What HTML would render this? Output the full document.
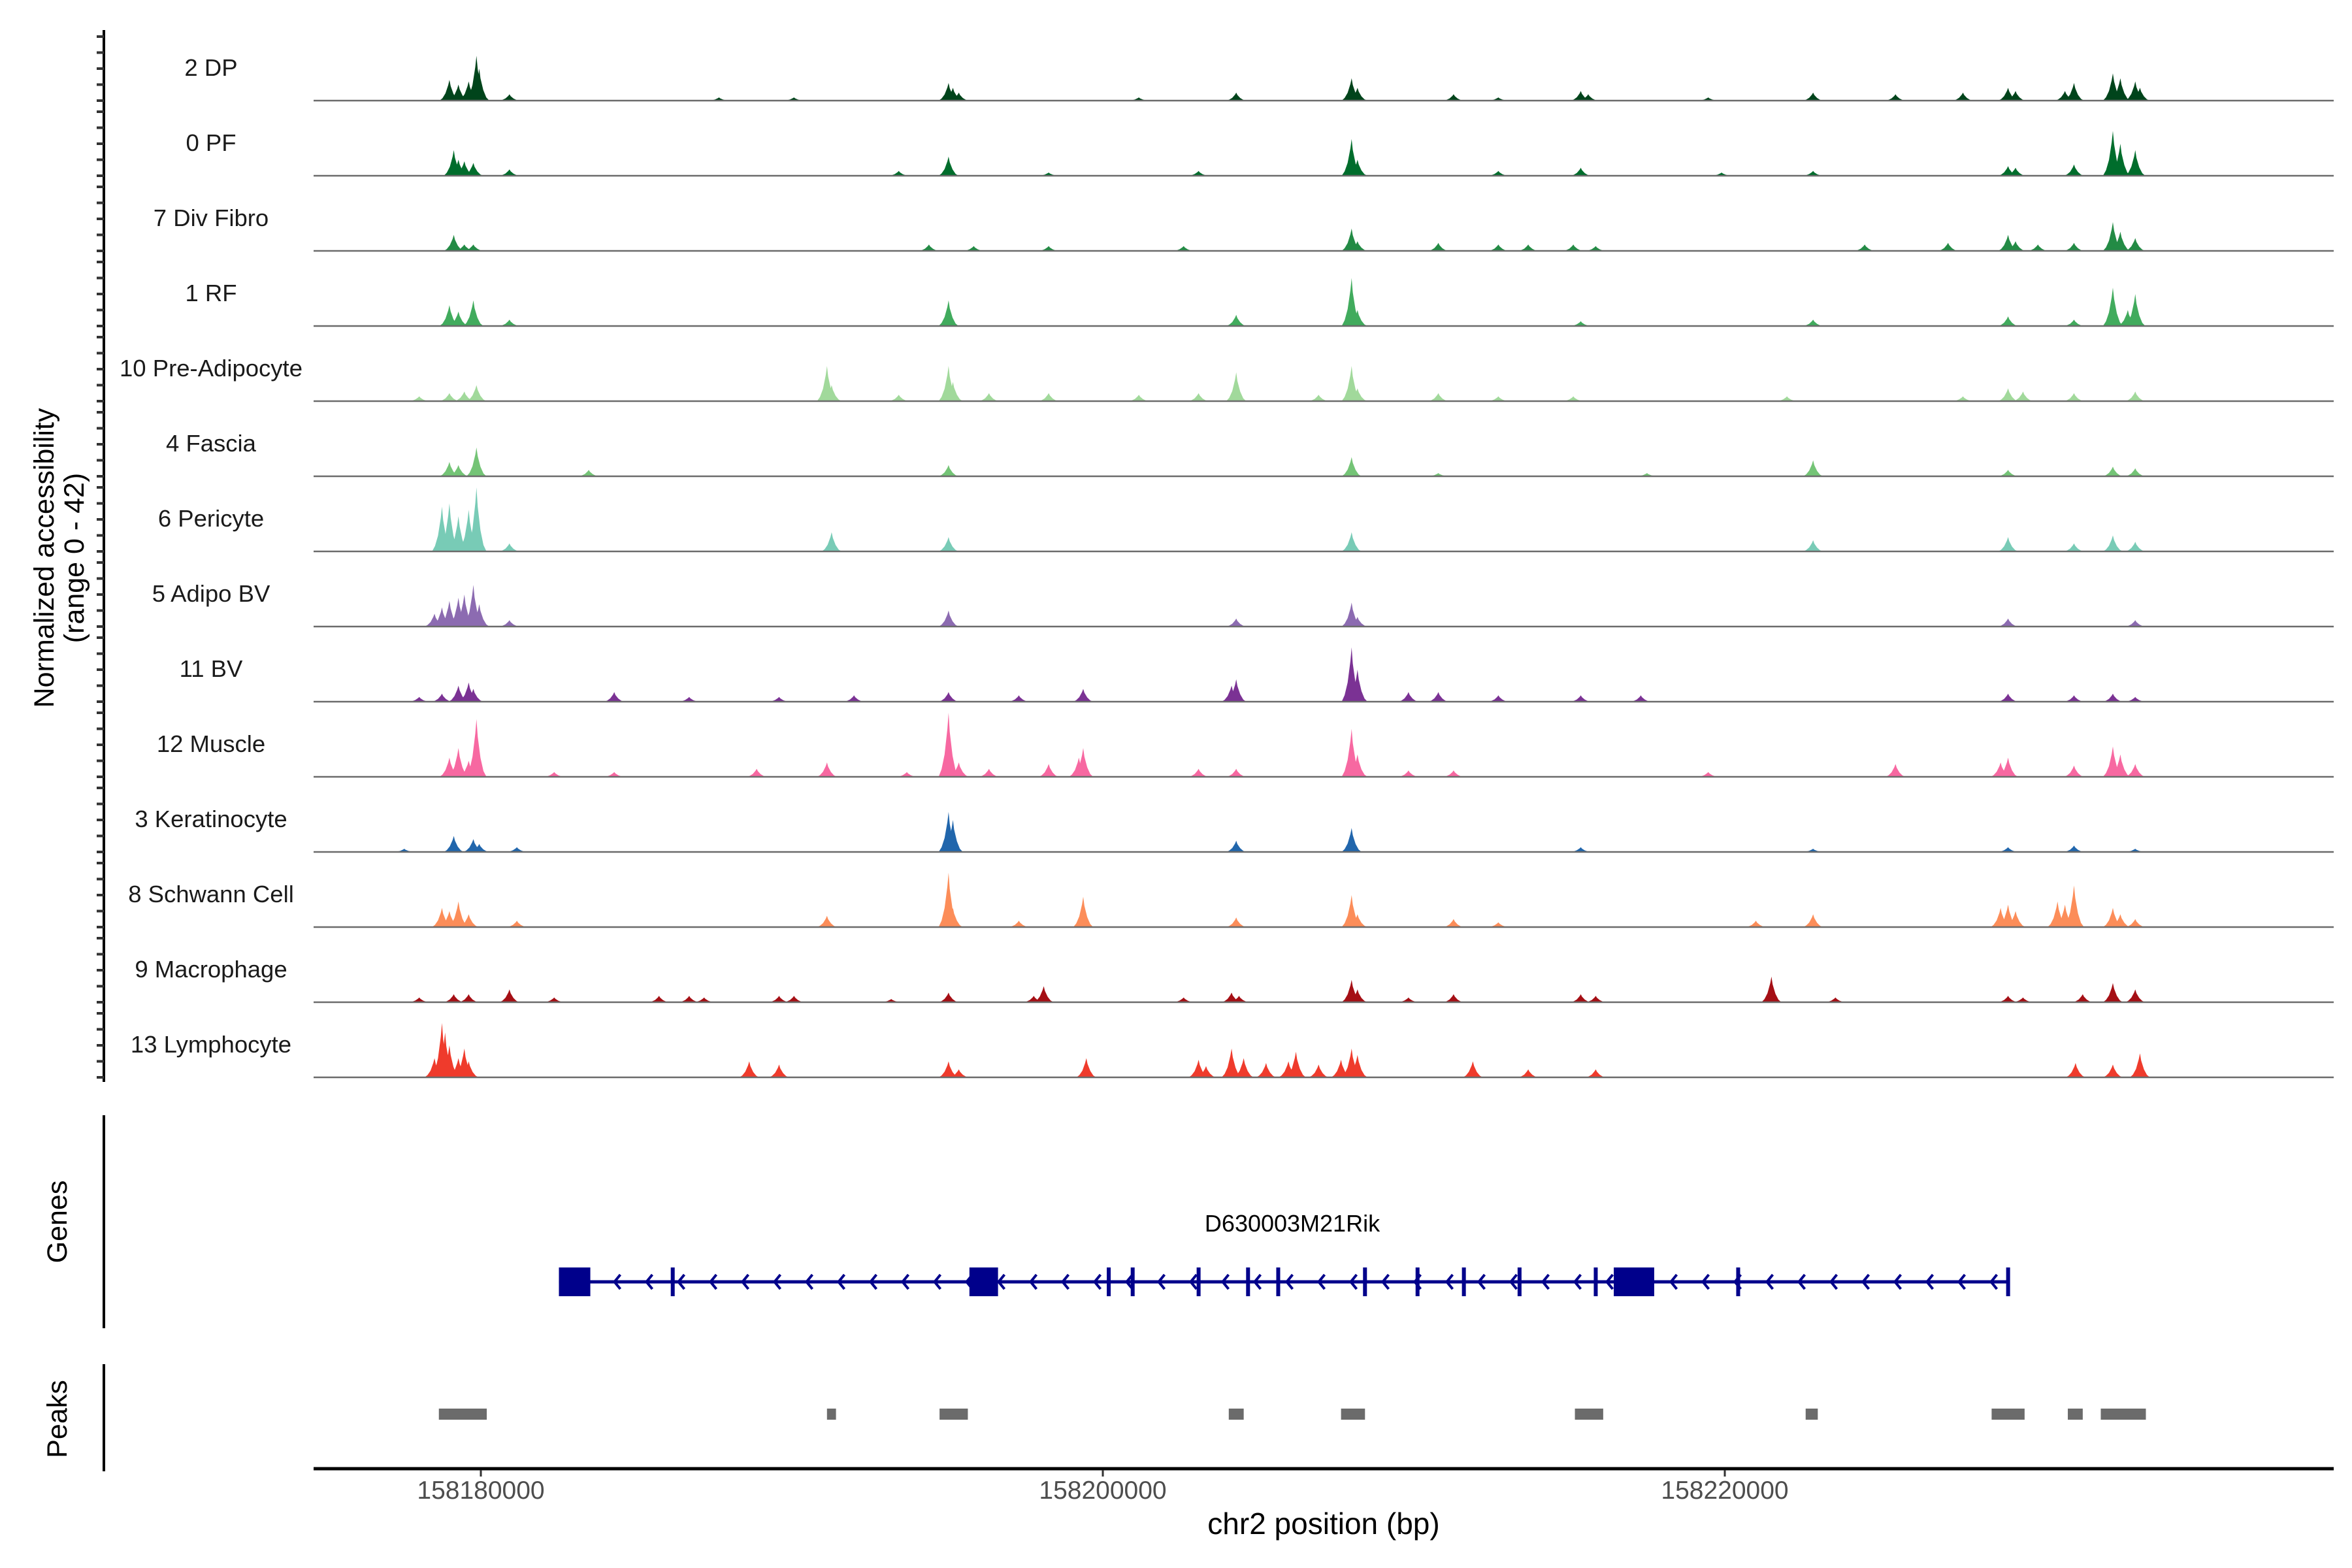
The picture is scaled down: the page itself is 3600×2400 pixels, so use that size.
<!DOCTYPE html>
<html><head><meta charset="utf-8">
<style>
html,body{margin:0;padding:0;background:#fff;}
svg{display:block;font-family:"Liberation Sans",Arial,sans-serif;}
</style></head>
<body>
<svg id="chart" width="3600" height="2400" viewBox="0 0 3600 2400" xmlns="http://www.w3.org/2000/svg">
<rect width="3600" height="2400" fill="#fff"/>
<g id="tracks"></g>
<g id="yaxis"></g>
<text transform="translate(82,854) rotate(-90)" text-anchor="middle" font-size="43" fill="#000">Normalized accessibility</text>
<text transform="translate(128,854) rotate(-90)" text-anchor="middle" font-size="43" fill="#000">(range 0 - 42)</text>
<g id="genes"></g>
<line x1="159" y1="1707" x2="159" y2="2033" stroke="#000" stroke-width="4"/>
<text transform="translate(102,1870) rotate(-90)" text-anchor="middle" font-size="43" fill="#000">Genes</text>
<text x="1978" y="1885" text-anchor="middle" font-size="36" fill="#000">D630003M21Rik</text>
<g id="peaks"></g>
<line x1="159" y1="2088" x2="159" y2="2252" stroke="#000" stroke-width="4"/>
<text transform="translate(102,2172) rotate(-90)" text-anchor="middle" font-size="43" fill="#000">Peaks</text>
<g id="xaxis"></g>
<text x="2026" y="2348" text-anchor="middle" font-size="46" fill="#000">chr2 position (bp)</text>
</svg>
<script>
// ---- data ----
const originBp = 158180000;
const trackNames = ["2 DP","0 PF","7 Div Fibro","1 RF","10 Pre-Adipocyte","4 Fascia","6 Pericyte","5 Adipo BV","11 BV","12 Muscle","3 Keratinocyte","8 Schwann Cell","9 Macrophage","13 Lymphocyte"];
const trackColors = ["#00441b","#006d2c","#238b45","#41ab5d","#a1d99b","#74c476","#78cbb6","#8c6bb1","#7b3294","#f768a1","#2166ac","#fc8d59","#a50f15","#ef3b2c"];
// peak positions in kb offset from originBp, values in normalized accessibility
const pos0 = [-1.01,-0.72,-0.39,-0.14,-0.05,0.92,7.66,10.07,15.04,15.18,15.37,21.16,24.29,28.0,28.19,31.28,32.72,35.37,35.61,39.47,42.84,45.49,47.66,49.11,49.35,50.94,51.23,52.48,52.72,53.2,53.35];
const val0 = [13,10,12,28,20,4,2,2,11,8,5,2,5,14,8,4,2,6,4,2,5,4,5,8,6,6,11,17,14,12,8];
const pos1 = [-0.87,-0.72,-0.53,-0.24,0.92,13.44,15.04,18.26,23.08,28.0,28.19,32.72,35.37,39.9,42.84,49.11,49.35,51.23,52.48,52.72,53.2];
const val1 = [16,10,9,8,4,3,12,2,3,23,10,3,5,2,3,6,5,7,28,20,16];
const pos2 = [-0.87,-0.53,-0.24,14.41,15.85,18.26,22.6,28.0,28.19,30.79,32.72,33.68,35.13,35.85,44.5,47.18,49.11,49.35,50.07,51.23,52.48,52.72,53.2];
const val2 = [10,4,4,4,3,3,3,14,6,5,4,4,4,3,4,5,10,6,4,5,18,12,8];
const pos3 = [-1.01,-0.72,-0.24,0.92,15.04,24.29,28.0,28.19,35.37,42.84,49.11,51.23,52.48,52.96,53.2];
const val3 = [13,9,16,4,16,7,30,10,3,4,6,4,24,10,20];
const pos4 = [-1.98,-1.01,-0.53,-0.14,11.13,11.28,13.44,15.04,15.18,16.34,18.26,21.16,23.08,24.29,26.94,28.0,28.19,30.79,32.72,35.13,42.0,47.66,49.11,49.59,51.23,53.2];
const val4 = [3,5,6,10,22,10,4,22,12,5,5,4,5,18,4,22,8,5,3,3,3,3,8,6,5,6];
const pos5 = [-1.01,-0.72,-0.14,3.47,15.04,28.0,30.79,37.5,42.84,49.11,52.48,53.2];
const val5 = [9,7,18,4,7,12,2,2,10,4,6,5];
const pos6 = [-1.25,-1.01,-0.72,-0.39,-0.14,0.92,11.28,15.04,28.0,42.84,49.11,51.23,52.48,53.2];
const val6 = [28,30,22,26,40,5,12,9,12,7,9,5,10,6];
const pos7 = [-1.49,-1.25,-1.01,-0.72,-0.53,-0.24,-0.05,0.92,15.04,24.29,28.0,28.19,49.11,53.2];
const val7 = [8,12,16,18,20,26,14,4,10,5,15,6,5,4];
const pos8 = [-1.98,-1.25,-0.72,-0.39,-0.24,4.29,6.7,9.59,12.0,15.04,17.3,19.37,24.14,24.29,28.0,28.19,29.83,30.79,32.72,35.37,37.3,49.11,51.23,52.48,53.2];
const val8 = [3,5,10,12,8,6,3,3,4,6,4,8,10,14,34,20,6,6,4,4,4,5,4,5,3];
const pos9 = [-1.01,-0.72,-0.39,-0.14,2.36,4.29,8.87,11.13,13.7,15.04,15.37,16.34,18.26,19.23,19.37,23.08,24.29,28.0,28.19,29.83,31.28,39.47,45.49,48.87,49.11,51.23,52.48,52.72,53.2];
const val9 = [12,18,10,36,3,3,5,9,3,40,9,5,8,12,18,5,5,30,14,4,4,3,8,9,12,7,19,14,8];
const pos10 = [-2.46,-0.87,-0.24,-0.05,1.16,15.04,15.18,24.29,28.0,35.37,42.84,49.11,51.23,53.2];
const val10 = [2,10,8,5,3,25,20,7,15,3,2,3,4,2];
const pos11 = [-1.25,-1.01,-0.72,-0.39,1.16,11.13,15.04,15.18,17.3,19.37,24.29,28.0,28.19,31.28,32.72,41.0,42.84,48.87,49.11,49.35,50.7,50.94,51.23,52.48,52.72,53.2];
const val11 = [12,10,16,8,4,7,34,12,4,19,6,20,8,5,3,4,8,12,14,10,16,14,26,12,8,5];
const pos12 = [-1.98,-0.87,-0.39,0.92,2.36,5.73,6.7,7.18,9.59,10.07,13.2,15.04,17.78,18.1,22.6,24.14,24.38,28.0,28.19,29.83,31.28,35.37,35.85,41.5,43.56,49.11,49.59,51.51,52.48,53.2];
const val12 = [3,5,5,8,3,4,4,3,4,4,2,6,4,10,3,6,4,14,8,3,5,5,4,16,3,4,3,5,12,8];
const pos13 = [-1.49,-1.25,-1.15,-1.01,-0.72,-0.53,-0.39,8.63,9.59,15.04,15.37,19.47,23.08,23.32,24.14,24.53,25.25,25.97,26.21,26.94,27.66,28.0,28.19,31.9,33.68,35.85,51.28,52.48,53.35];
const val13 = [12,34,28,20,12,18,10,10,8,10,5,12,11,7,18,12,9,10,16,8,11,18,14,10,5,5,9,8,15];
const trackPos = [pos0,pos1,pos2,pos3,pos4,pos5,pos6,pos7,pos8,pos9,pos10,pos11,pos12,pos13];
const trackVal = [val0,val1,val2,val3,val4,val5,val6,val7,val8,val9,val10,val11,val12,val13];
// gene model (kb offsets)
const geneStartKb = 2.51, geneEndKb = 49.11;
const exonStarts = [2.51,6.17,15.71,20.19,20.96,23.08,24.67,25.64,28.43,30.12,31.61,33.40,35.85,36.43,40.43,49.11];
const exonEnds   = [3.52,6.17,16.63,20.19,20.96,23.08,24.67,25.64,28.43,30.12,31.61,33.40,35.85,37.73,40.43,49.11];
// called peaks (kb offsets)
const peakStarts = [-1.35,11.13,14.75,24.05,27.66,35.18,42.60,48.58,51.03,52.09];
const peakEnds   = [0.19,11.42,15.66,24.53,28.43,36.09,42.99,49.64,51.51,53.54];
const xTicksBp = [158180000,158200000,158220000];
const xTickLabels = ["158180000","158200000","158220000"];

// ---- scales ----
const NS="http://www.w3.org/2000/svg";
const X0=736, PXPERKB=47.6, XL=480, XR=3572;
function xScale(kb){return X0+kb*PXPERKB;}
function xScaleBp(bp){return xScale((bp-originBp)/1000);}
const BASE0=154, STEP=115.0, PXPERVAL=2.45;
function baseY(i){return BASE0+i*STEP;}
function yScale(i,v){return baseY(i)-v*PXPERVAL;}
function mk(tag,attrs,parent){const e=document.createElementNS(NS,tag);for(const k in attrs)e.setAttribute(k,attrs[k]);parent.appendChild(e);return e;}

// ---- tracks ----
const gT=document.getElementById('tracks');
trackNames.forEach((name,i)=>{
  const g=mk('g',{},gT);
  
  
  const w=0.32;
  trackPos[i].forEach((p,j)=>{
    const v=trackVal[i][j], b=baseY(i);
    const pts=[[xScale(p-w),b],[xScale(p-w*0.7),yScale(i,v*0.12)],[xScale(p-w*0.4),yScale(i,v*0.35)],[xScale(p-w*0.12),yScale(i,v*0.75)],[xScale(p),yScale(i,v)],[xScale(p+w*0.12),yScale(i,v*0.7)],[xScale(p+w*0.4),yScale(i,v*0.33)],[xScale(p+w*0.7),yScale(i,v*0.1)],[xScale(p+w),b]];
    const poly=mk('polygon',{points:pts.map(q=>q[0].toFixed(1)+','+q[1].toFixed(1)).join(' '),fill:trackColors[i]},g);
    
    
  });
  const bl=mk('line',{x1:XL,x2:XR,y1:baseY(i),y2:baseY(i),stroke:'#6b6b6b','stroke-width':2.5},g);
  
  
  const t=mk('text',{x:323,y:baseY(i)-38,'text-anchor':'middle','font-size':36.5,fill:'#1a1a1a'},g);
  t.textContent=name;
  
  
});

// ---- y axis ----
const gY=document.getElementById('yaxis');
const ya=mk('line',{x1:159,x2:159,y1:46,y2:1656,stroke:'#000','stroke-width':4},gY);


for(let i=0;i<trackNames.length;i++){
  for(let k=0;k<=40;k+=10){
    const y=yScale(i,k);
    const tk=mk('line',{x1:148,x2:159,y1:y,y2:y,stroke:'#333','stroke-width':4},gY);
    
    
  }
}

// ---- genes ----
const gG=document.getElementById('genes');
const GY=1962;
const gl=mk('line',{x1:xScale(geneStartKb),x2:xScale(geneEndKb),y1:GY,y2:GY,stroke:'#00008b','stroke-width':5},gG);


for(let x=xScale(geneStartKb)+40;x<xScale(geneEndKb)-10;x+=49){
  const ch=mk('polyline',{points:(x+5)+','+(GY-11)+' '+(x-4)+','+GY+' '+(x+5)+','+(GY+11),fill:'none',stroke:'#00008b','stroke-width':4},gG);
  
  
}
exonStarts.forEach((s,j)=>{
  const x1=xScale(s), x2=xScale(exonEnds[j]);
  const wdt=Math.max(x2-x1,6);
  const r=mk('rect',{x:(x2-x1<6? x1-3:x1),y:GY-22,width:wdt,height:44,fill:'#00008b'},gG);
  
  
});

// ---- peaks ----
const gP=document.getElementById('peaks');
peakStarts.forEach((s,j)=>{
  const r=mk('rect',{x:xScale(s),y:2156,width:xScale(peakEnds[j])-xScale(s),height:17,fill:'#6b6b6b'},gP);
  
  
});

// ---- x axis ----
const gX=document.getElementById('xaxis');
const xa=mk('line',{x1:XL,x2:XR,y1:2248,y2:2248,stroke:'#000','stroke-width':5},gX);


xTicksBp.forEach((bp,j)=>{
  const x=xScaleBp(bp);
  const tk=mk('line',{x1:x,x2:x,y1:2250,y2:2260,stroke:'#333','stroke-width':3},gX);
  
  
  const t=mk('text',{x:x,y:2294,'text-anchor':'middle','font-size':39,fill:'#4d4d4d'},gX);
  t.textContent=xTickLabels[j];
  
  
});
</script>
</body></html>
